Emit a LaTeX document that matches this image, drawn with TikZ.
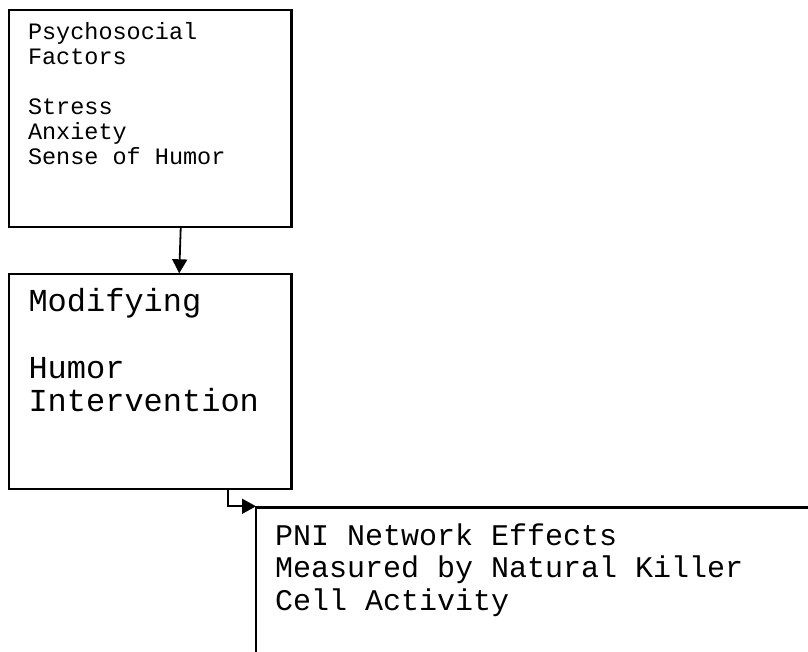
\documentclass[tikz,border=0pt]{standalone}
\usepackage{fontspec}
\newfontfamily\monofam{Liberation Mono}
\usetikzlibrary{arrows.meta}
\tikzset{
  boxnode/.style={draw=black, line width=2.2pt, rectangle, inner sep=0pt, outer sep=0pt, anchor=north west},
  txtnode/.style={anchor=base west, inner sep=0pt, outer sep=0pt, align=left},
  conn/.style={draw=black, line width=1.8pt, -{Triangle[length=14pt,width=15pt]}}
}
\begin{document}
\begin{tikzpicture}[x=1pt,y=-1pt]
\path[use as bounding box, clip] (0,0) rectangle (808,652);
\fill[white] (0,0) rectangle (808,652);
% boxes
\node[boxnode, minimum width=282.5pt, minimum height=216.4pt] (b1) at (9,10.3) {};
\node[boxnode, minimum width=282.5pt, minimum height=214.9pt] (b2) at (9,274.3) {};
\node[boxnode, minimum width=600pt, minimum height=200pt] (b3) at (256,507.5) {};
% texts
\node[txtnode] (t1) at (28,39.5) {\monofam\fontsize{23.5pt}{25pt}\selectfont\begin{tabular}[t]{@{}l@{}}Psychosocial\\Factors\\ \\Stress\\Anxiety\\Sense of Humor\end{tabular}};
\node[txtnode] (t2) at (28.5,311.7) {\monofam\fontsize{32pt}{33.3pt}\selectfont\begin{tabular}[t]{@{}l@{}}Modifying\\ \\Humor\\Intervention\end{tabular}};
\node[txtnode] (t3) at (275,545) {\monofam\fontsize{30pt}{32.8pt}\selectfont\begin{tabular}[t]{@{}l@{}}PNI Network Effects\\Measured by Natural Killer\\Cell Activity\end{tabular}};
% connectors
\draw[conn] ([xshift=30.5pt]b1.south) -- ([xshift=29pt,yshift=1pt]b2.north);
\draw[conn] ([xshift=78pt]b2.south) |- ([yshift=1.2pt]b3.north west);
\end{tikzpicture}
\end{document}
